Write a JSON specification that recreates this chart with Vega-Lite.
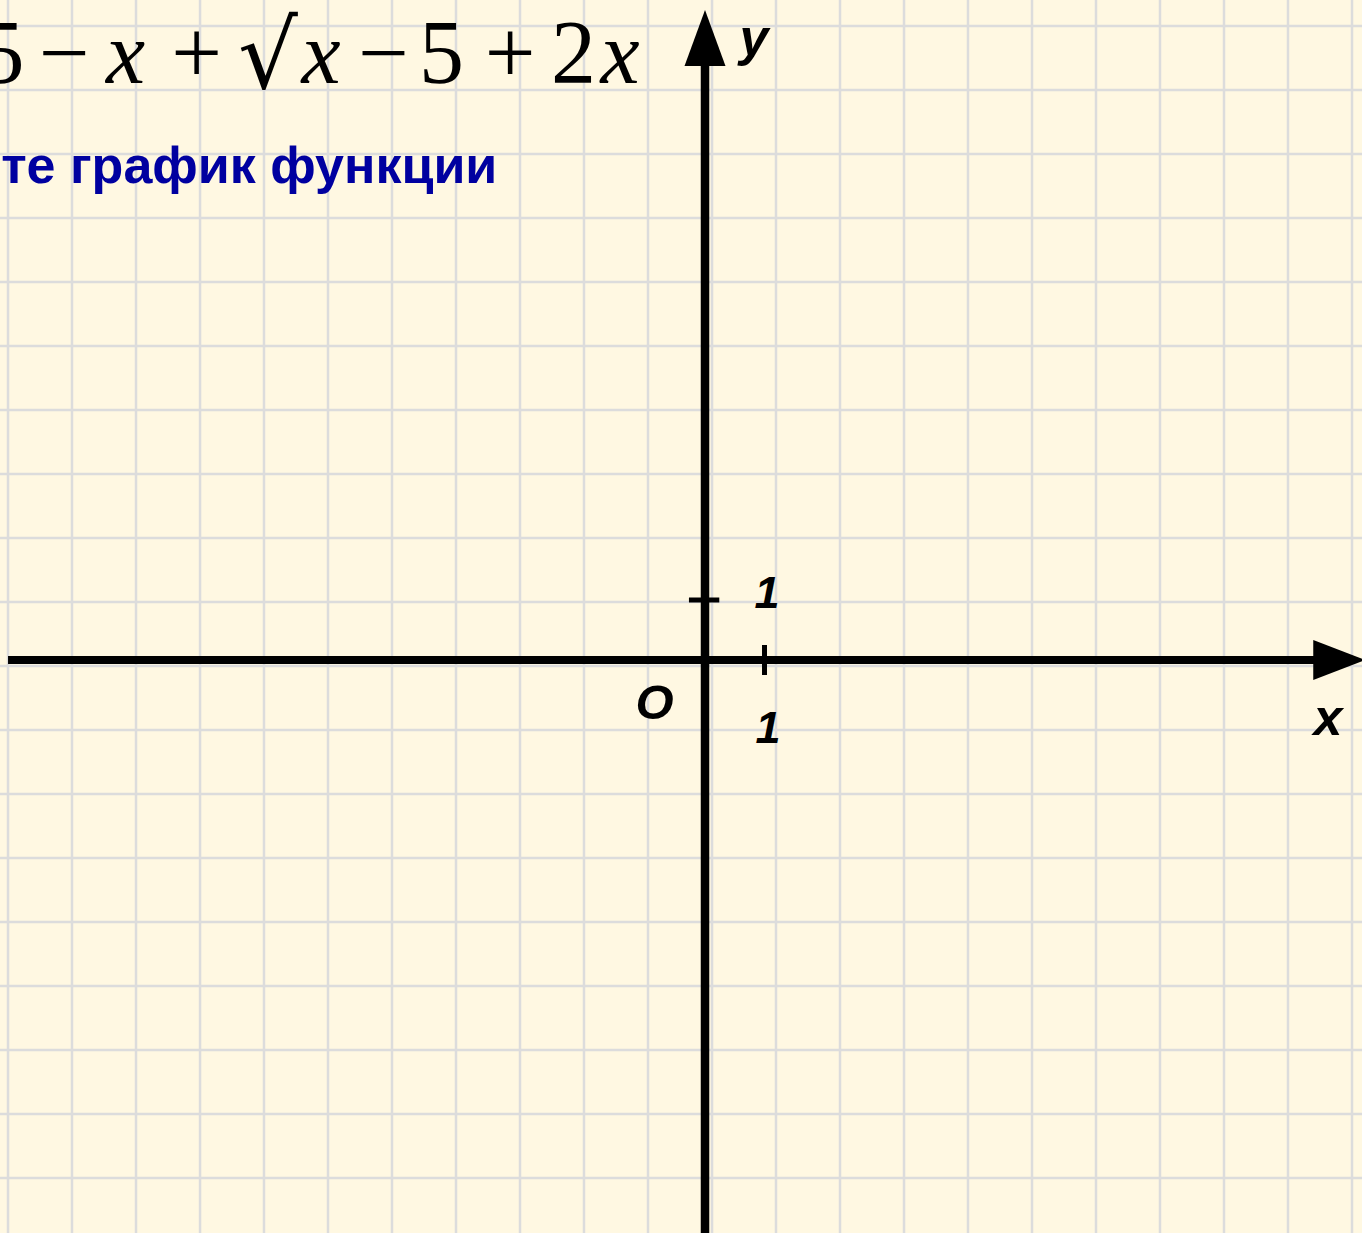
{
  "$schema": "https://vega.github.io/schema/vega-lite/v6.json",
  "width": 1362,
  "height": 1233,
  "padding": 0,
  "autosize": {"type": "none"},
  "background": "#fff8e2",
  "config": {"view": {"stroke": null}},
  "datasets": {
    "vgrid": [
      {"x": -11.714}, {"x": -10.639}, {"x": -9.563}, {"x": -8.487}, {"x": -7.412},
      {"x": -6.336}, {"x": -5.261}, {"x": -4.185}, {"x": -3.109}, {"x": -2.034},
      {"x": -0.958}, {"x": 0.118}, {"x": 1.193}, {"x": 2.269}, {"x": 3.345},
      {"x": 4.42}, {"x": 5.496}, {"x": 6.571}, {"x": 7.647}, {"x": 8.723},
      {"x": 9.798}, {"x": 10.874}
    ],
    "hgrid": [
      {"y": 10.567}, {"y": 9.5}, {"y": 8.433}, {"y": 7.367}, {"y": 6.3},
      {"y": 5.233}, {"y": 4.167}, {"y": 3.1}, {"y": 2.033}, {"y": 0.967},
      {"y": -0.1}, {"y": -1.167}, {"y": -2.233}, {"y": -3.3}, {"y": -4.367},
      {"y": -5.433}, {"y": -6.5}, {"y": -7.567}, {"y": -8.633}
    ],
    "hlines": [
      {"x": -11.714, "x2": 10.4, "y": 0}
    ],
    "vlines": [
      {"x": 0, "y": -9.7, "y2": 10.0}
    ],
    "htick": [{"x": -0.27, "x2": 0.24, "y": 1}],
    "vtick": [{"x": 1, "y": -0.25, "y2": 0.25}],
    "xarrow": [{"x": 10.66, "y": 0}],
    "yarrow": [{"x": 0, "y": 10.367}],
    "upright": [
      {"t": "5", "x": -11.815, "y": 9.617},
      {"t": "−", "x": -10.765, "y": 9.617},
      {"t": "+", "x": -8.546, "y": 9.617},
      {"t": "−", "x": -5.403, "y": 9.617},
      {"t": "5", "x": -4.429, "y": 9.617},
      {"t": "+", "x": -3.277, "y": 9.617},
      {"t": "2", "x": -2.21, "y": 9.617}
    ],
    "italic": [
      {"t": "x", "x": -9.739, "y": 9.617},
      {"t": "x", "x": -6.454, "y": 9.617},
      {"t": "x", "x": -1.429, "y": 9.617}
    ],
    "radical": [{"t": "√", "x": -7.345, "y": 9.53}],
    "subtitle": [{"t": "те график функции", "x": -11.83, "y": 7.95}],
    "ones": [
      {"t": "1", "x": 1.042, "y": 0.867},
      {"t": "1", "x": 1.059, "y": -1.383}
    ],
    "origin": [{"t": "O", "x": -0.849, "y": -0.983}],
    "axisnames": [
      {"t": "x", "x": 10.471, "y": -1.25},
      {"t": "y", "x": 0.824, "y": 10.083}
    ]
  },
  "layer": [
    {
      "data": {"name": "vgrid"},
      "mark": {"type": "rule", "color": "#dcdcdc", "strokeWidth": 2.5},
      "encoding": {
        "x": {"field": "x", "type": "quantitative", "axis": null, "scale": {"domain": [-11.849, 11.042], "nice": false, "zero": false}}
      }
    },
    {
      "data": {"name": "hgrid"},
      "mark": {"type": "rule", "color": "#dcdcdc", "strokeWidth": 2.5},
      "encoding": {
        "y": {"field": "y", "type": "quantitative", "axis": null, "scale": {"domain": [-9.55, 11], "nice": false, "zero": false}}
      }
    },
    {
      "data": {"name": "hlines"},
      "mark": {"type": "rule", "color": "#000000", "strokeWidth": 8},
      "encoding": {
        "x": {"field": "x", "type": "quantitative", "axis": null, "scale": {"domain": [-11.849, 11.042], "nice": false, "zero": false}},
        "x2": {"field": "x2"},
        "y": {"field": "y", "type": "quantitative", "axis": null, "scale": {"domain": [-9.55, 11], "nice": false, "zero": false}}
      }
    },
    {
      "data": {"name": "vlines"},
      "mark": {"type": "rule", "color": "#000000", "strokeWidth": 8.5},
      "encoding": {
        "x": {"field": "x", "type": "quantitative", "axis": null, "scale": {"domain": [-11.849, 11.042], "nice": false, "zero": false}},
        "y": {"field": "y", "type": "quantitative", "axis": null, "scale": {"domain": [-9.55, 11], "nice": false, "zero": false}},
        "y2": {"field": "y2"}
      }
    },
    {
      "data": {"name": "htick"},
      "mark": {"type": "rule", "color": "#000000", "strokeWidth": 5},
      "encoding": {
        "x": {"field": "x", "type": "quantitative", "axis": null, "scale": {"domain": [-11.849, 11.042], "nice": false, "zero": false}},
        "x2": {"field": "x2"},
        "y": {"field": "y", "type": "quantitative", "axis": null, "scale": {"domain": [-9.55, 11], "nice": false, "zero": false}}
      }
    },
    {
      "data": {"name": "vtick"},
      "mark": {"type": "rule", "color": "#000000", "strokeWidth": 5},
      "encoding": {
        "x": {"field": "x", "type": "quantitative", "axis": null, "scale": {"domain": [-11.849, 11.042], "nice": false, "zero": false}},
        "y": {"field": "y", "type": "quantitative", "axis": null, "scale": {"domain": [-9.55, 11], "nice": false, "zero": false}},
        "y2": {"field": "y2"}
      }
    },
    {
      "data": {"name": "xarrow"},
      "mark": {"type": "point", "shape": "M-1,-0.77L1,0L-1,0.77Z", "size": 2704, "filled": true, "color": "#000000", "opacity": 1, "strokeWidth": 0},
      "encoding": {
        "x": {"field": "x", "type": "quantitative", "axis": null, "scale": {"domain": [-11.849, 11.042], "nice": false, "zero": false}},
        "y": {"field": "y", "type": "quantitative", "axis": null, "scale": {"domain": [-9.55, 11], "nice": false, "zero": false}}
      }
    },
    {
      "data": {"name": "yarrow"},
      "mark": {"type": "point", "shape": "M-0.732,1L0,-1L0.732,1Z", "size": 3136, "filled": true, "color": "#000000", "opacity": 1, "strokeWidth": 0},
      "encoding": {
        "x": {"field": "x", "type": "quantitative", "axis": null, "scale": {"domain": [-11.849, 11.042], "nice": false, "zero": false}},
        "y": {"field": "y", "type": "quantitative", "axis": null, "scale": {"domain": [-9.55, 11], "nice": false, "zero": false}}
      }
    },
    {
      "data": {"name": "upright"},
      "mark": {"type": "text", "font": "Liberation Serif", "fontSize": 90, "align": "center", "baseline": "alphabetic", "color": "#000000"},
      "encoding": {
        "x": {"field": "x", "type": "quantitative", "axis": null, "scale": {"domain": [-11.849, 11.042], "nice": false, "zero": false}},
        "y": {"field": "y", "type": "quantitative", "axis": null, "scale": {"domain": [-9.55, 11], "nice": false, "zero": false}},
        "text": {"field": "t"}
      }
    },
    {
      "data": {"name": "italic"},
      "mark": {"type": "text", "font": "Liberation Serif", "fontSize": 88, "fontStyle": "italic", "align": "center", "baseline": "alphabetic", "color": "#000000"},
      "encoding": {
        "x": {"field": "x", "type": "quantitative", "axis": null, "scale": {"domain": [-11.849, 11.042], "nice": false, "zero": false}},
        "y": {"field": "y", "type": "quantitative", "axis": null, "scale": {"domain": [-9.55, 11], "nice": false, "zero": false}},
        "text": {"field": "t"}
      }
    },
    {
      "data": {"name": "radical"},
      "mark": {"type": "text", "font": "DejaVu Serif", "fontSize": 94, "align": "center", "baseline": "alphabetic", "color": "#000000"},
      "encoding": {
        "x": {"field": "x", "type": "quantitative", "axis": null, "scale": {"domain": [-11.849, 11.042], "nice": false, "zero": false}},
        "y": {"field": "y", "type": "quantitative", "axis": null, "scale": {"domain": [-9.55, 11], "nice": false, "zero": false}},
        "text": {"field": "t"}
      }
    },
    {
      "data": {"name": "subtitle"},
      "mark": {"type": "text", "font": "Liberation Sans", "fontSize": 52, "fontWeight": "bold", "align": "left", "baseline": "alphabetic", "color": "#0000a0"},
      "encoding": {
        "x": {"field": "x", "type": "quantitative", "axis": null, "scale": {"domain": [-11.849, 11.042], "nice": false, "zero": false}},
        "y": {"field": "y", "type": "quantitative", "axis": null, "scale": {"domain": [-9.55, 11], "nice": false, "zero": false}},
        "text": {"field": "t"}
      }
    },
    {
      "data": {"name": "ones"},
      "mark": {"type": "text", "font": "Liberation Sans", "fontSize": 45, "fontWeight": "bold", "fontStyle": "italic", "align": "center", "baseline": "alphabetic", "color": "#000000"},
      "encoding": {
        "x": {"field": "x", "type": "quantitative", "axis": null, "scale": {"domain": [-11.849, 11.042], "nice": false, "zero": false}},
        "y": {"field": "y", "type": "quantitative", "axis": null, "scale": {"domain": [-9.55, 11], "nice": false, "zero": false}},
        "text": {"field": "t"}
      }
    },
    {
      "data": {"name": "origin"},
      "mark": {"type": "text", "font": "Liberation Sans", "fontSize": 49, "fontWeight": "bold", "fontStyle": "italic", "align": "center", "baseline": "alphabetic", "color": "#000000"},
      "encoding": {
        "x": {"field": "x", "type": "quantitative", "axis": null, "scale": {"domain": [-11.849, 11.042], "nice": false, "zero": false}},
        "y": {"field": "y", "type": "quantitative", "axis": null, "scale": {"domain": [-9.55, 11], "nice": false, "zero": false}},
        "text": {"field": "t"}
      }
    },
    {
      "data": {"name": "axisnames"},
      "mark": {"type": "text", "font": "Liberation Sans", "fontSize": 52, "fontWeight": "bold", "fontStyle": "italic", "align": "center", "baseline": "alphabetic", "color": "#000000"},
      "encoding": {
        "x": {"field": "x", "type": "quantitative", "axis": null, "scale": {"domain": [-11.849, 11.042], "nice": false, "zero": false}},
        "y": {"field": "y", "type": "quantitative", "axis": null, "scale": {"domain": [-9.55, 11], "nice": false, "zero": false}},
        "text": {"field": "t"}
      }
    }
  ]
}
